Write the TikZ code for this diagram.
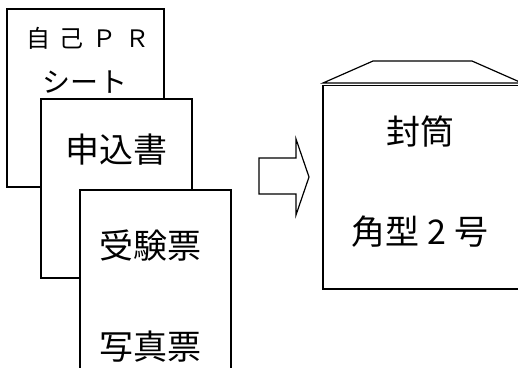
\documentclass[tikz,border=0pt]{standalone}
\usepackage{fontspec}
\setmainfont{Noto Sans CJK JP}
\newcommand{\smalltext}{\fontsize{24}{24}\selectfont}
\newcommand{\midtext}{\fontsize{28}{28}\selectfont}
\newcommand{\bigtext}{\fontsize{34}{34}\selectfont}

\begin{document}
\begin{tikzpicture}[line cap=round,x=1pt,y=-1pt]
	\useasboundingbox (0,0) rectangle (518,367);
	\clip (0,0) rectangle (518,367);
	\draw [line width=1.2pt,fill=white] (7,9) rectangle (164,187);
	\draw [line width=1.2pt,fill=white] (41,99) rectangle (192,278);
	\draw [line width=1.2pt,fill=white] (80,190) rectangle (231,380);
	\draw [line width=1.2pt] (259,158) -- (296,158) -- (296,139) -- (309,177) -- (296,215) -- (296,194) -- (259,194) -- cycle;
	\draw [line width=1.2pt] (323,83) -- (373,61) -- (472,61) -- (522,83) -- cycle;
	\draw [line width=1.2pt] (323,85.5) rectangle (522,289);
	\begin{scope}[inner sep=0pt]
		\node (pr) at (88,38) {\smalltext 自\hspace{9pt}己\hspace{9pt}Ｐ\hspace{9pt}Ｒ};
		\node (sheet) at (85,82) {\midtext シ\hspace{1pt}ー\hspace{1pt}ト};
		\node (apply) at (116,150) {\bigtext 申込書};
		\node (exam) at (150,246) {\bigtext 受験票};
		\node (photo) at (150,347) {\bigtext 写真票};
		\node (env) at (420,132) {\bigtext 封筒};
		\node (size) at (420,232) {\bigtext 角型 2 号};
	\end{scope}
\end{tikzpicture}
\end{document}
